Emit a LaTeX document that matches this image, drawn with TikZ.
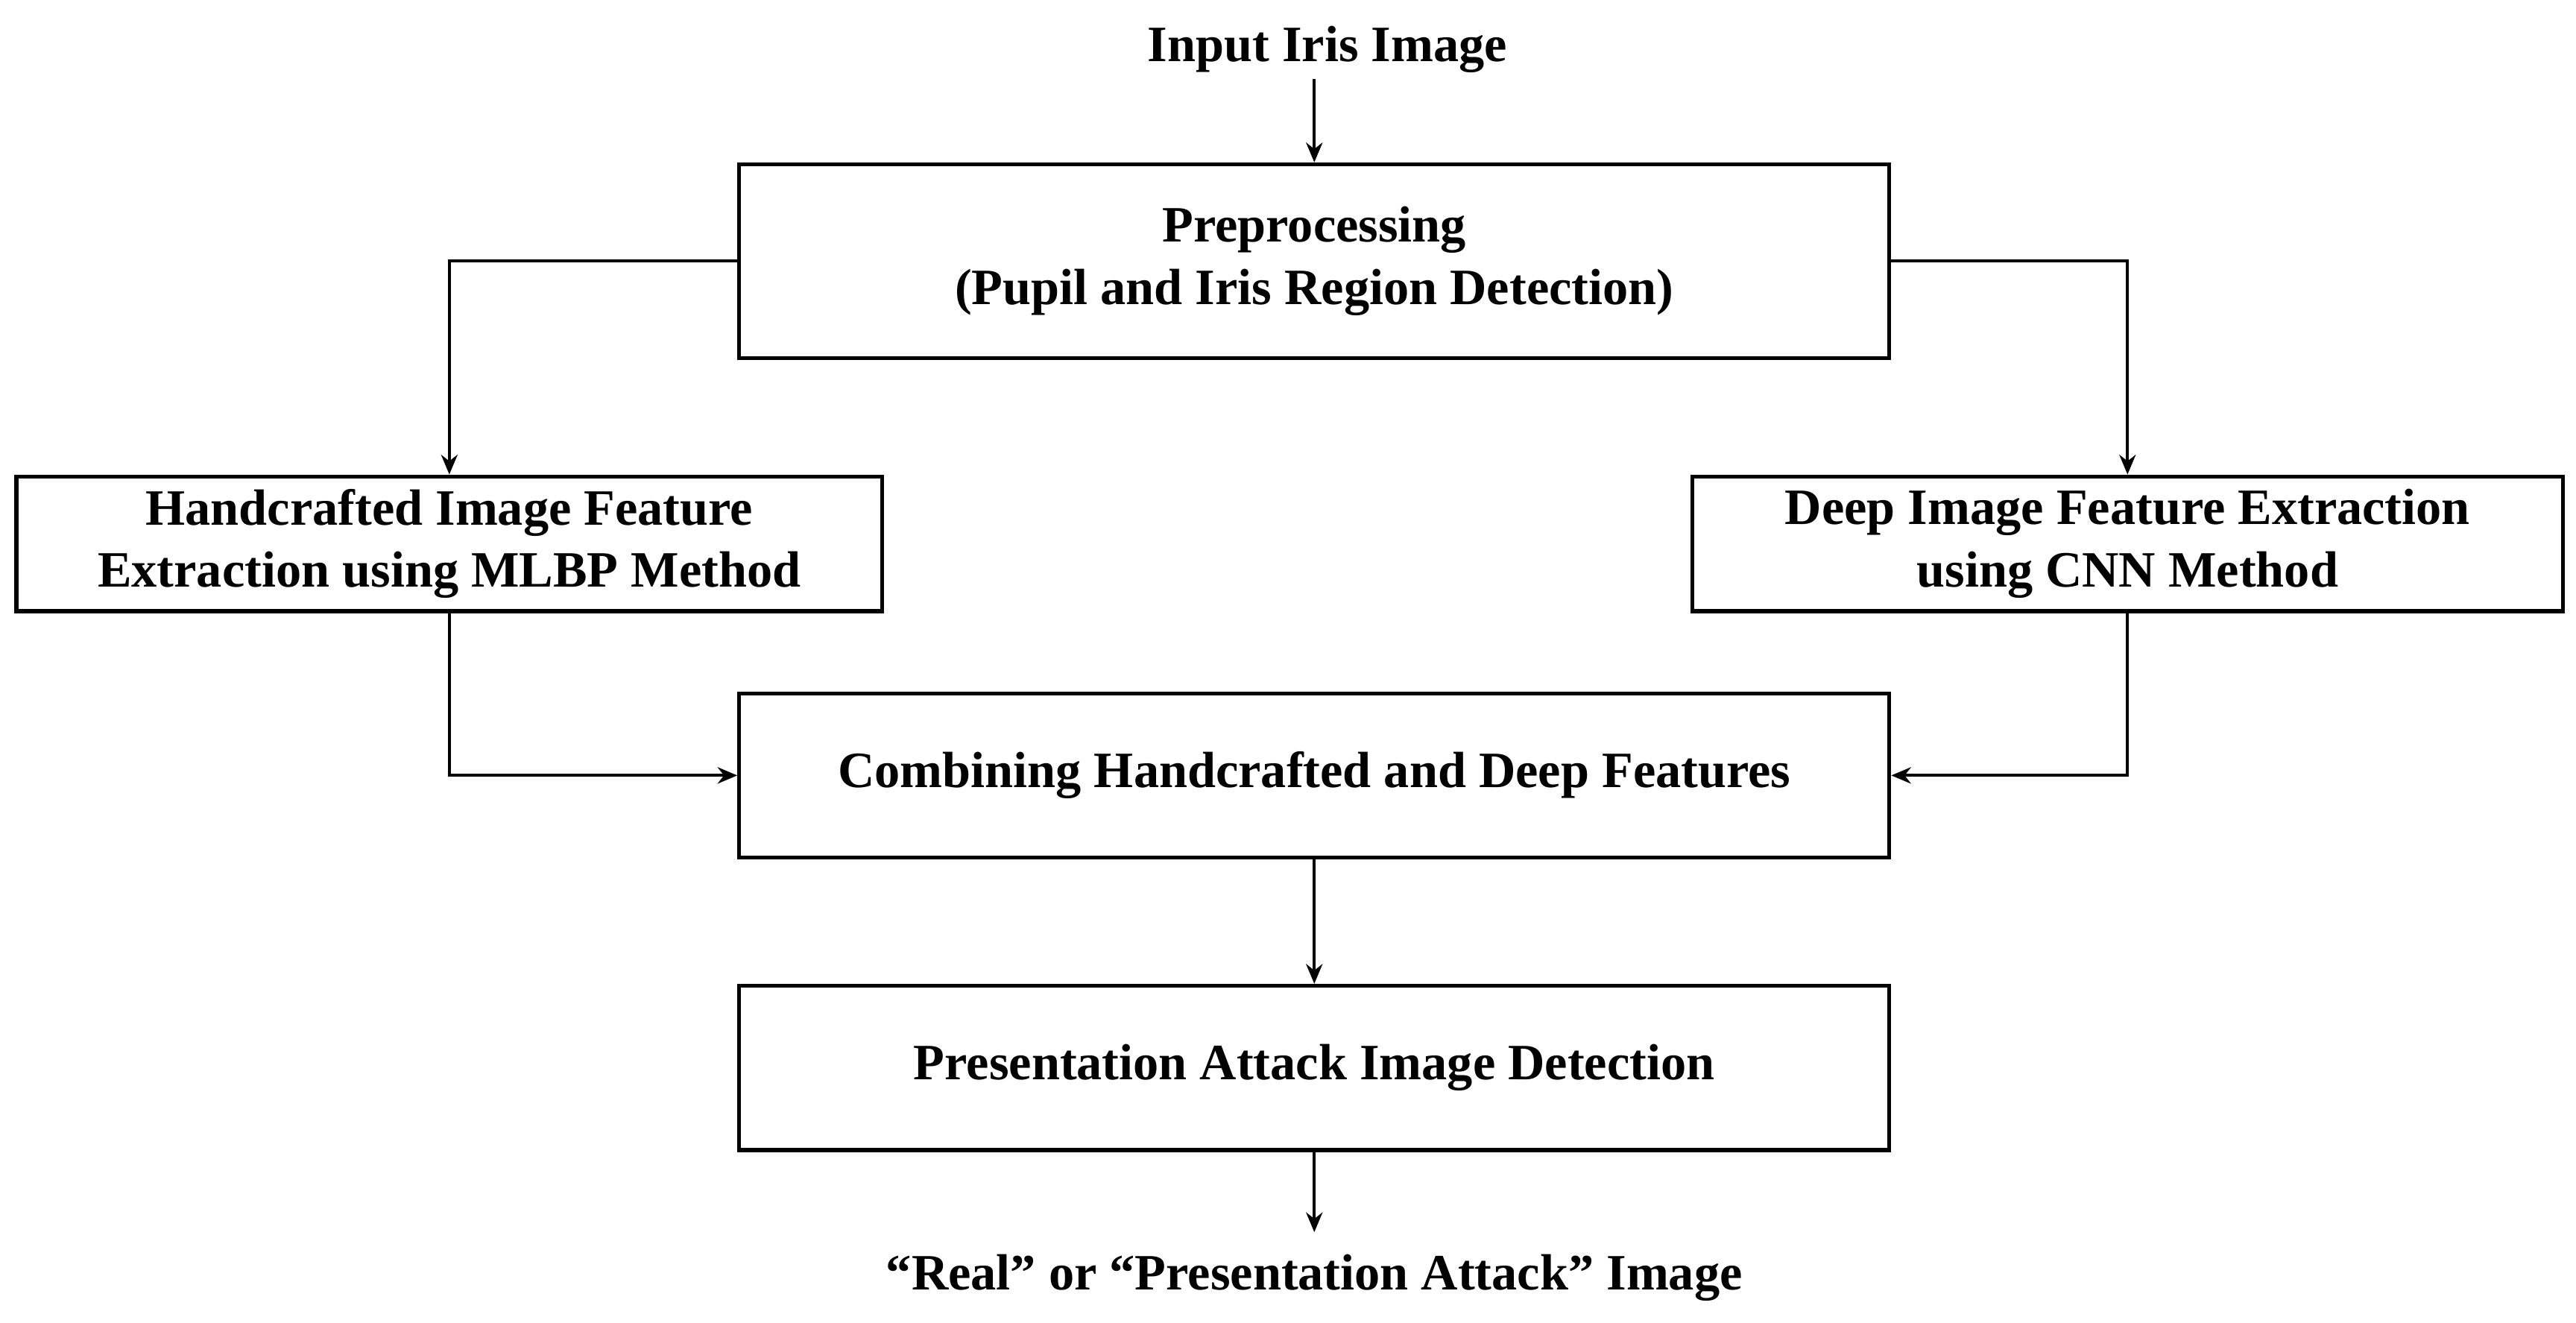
\documentclass[tikz,border=0pt]{standalone}
\usepackage{fontspec}
\setmainfont{Liberation Serif}
\usetikzlibrary{arrows.meta}
\begin{document}
\begin{tikzpicture}[x=0.5pt,y=-0.5pt,
  box/.style={draw,line width=1.2pt,inner sep=0pt,align=center,font=\fontsize{15.5}{19}\selectfont\bfseries},
  lbl/.style={font=\fontsize{15.5}{19}\selectfont\bfseries},
  arr/.style={-{Stealth[length=6pt,width=5pt]},line width=0.9pt}]
\useasboundingbox (0,0) rectangle (1568,805);
\node[lbl] (in) at (808,30) {Input Iris Image};
\node[box,minimum width=350pt,minimum height=59pt] (pre) at (800,159) {Preprocessing\\(Pupil and Iris Region Detection)};
\node[box,minimum width=263.5pt,minimum height=41pt] (hc) at (273.5,331) {Handcrafted Image Feature\\Extraction using MLBP Method};
\node[box,minimum width=265pt,minimum height=41pt] (dp) at (1295,331) {Deep Image Feature Extraction\\using CNN Method};
\node[box,minimum width=350pt,minimum height=50pt] (cb) at (800,472) {Combining Handcrafted and Deep Features};
\node[box,minimum width=350pt,minimum height=50pt] (pa) at (800,650) {Presentation Attack Image Detection};
\node[lbl] (out) at (800,778) {``Real'' or ``Presentation Attack'' Image};
\coordinate (a) at (800,48);
\coordinate (b) at (800,750);
\draw[arr] (a) -- (pre.north);
\draw[arr] (pre.west) -| (hc.north);
\draw[arr] (pre.east) -| (dp.north);
\draw[arr] (hc.south) |- (cb.west);
\draw[arr] (dp.south) |- (cb.east);
\draw[arr] (cb) -- (pa);
\draw[arr] (pa.south) -- (b);
\end{tikzpicture}
\end{document}
